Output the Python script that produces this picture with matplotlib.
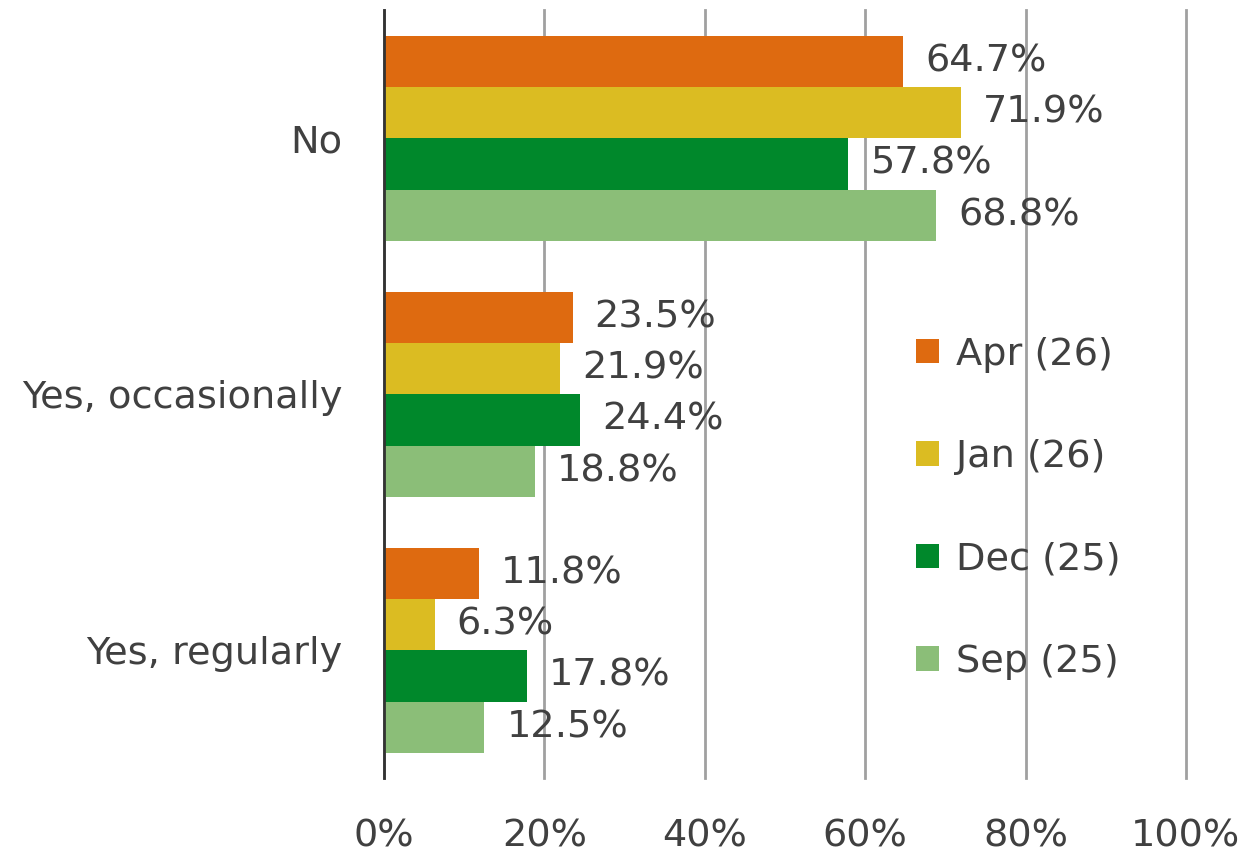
import matplotlib.pyplot as plt
import numpy as np

categories = ["No", "Yes, occasionally", "Yes, regularly"]
series = ["Apr (26)", "Jan (26)", "Dec (25)", "Sep (25)"]
apr = [64.7, 23.5, 11.8]
jan = [71.9, 21.9, 6.3]
dec = [57.8, 24.4, 17.8]
sep = [68.8, 18.8, 12.5]
colors = ["#DE6A10", "#DBBC22", "#00882B", "#8BBE78"]

txt = "#404040"
fs = 27.5
plt.rcParams['font.family'] = ['DejaVu Sans']

fig = plt.figure(figsize=(12.47, 8.6), dpi=100)
ax = fig.add_axes([0.308, 0.095, 0.643, 0.893])

y = np.arange(len(categories))
h = 0.2
for i, (vals, name) in enumerate(zip([apr, jan, dec, sep], series)):
    pos = y - 0.3 + i * h
    ax.barh(pos, vals, height=h, color=colors[i], label=name, zorder=2)
    for p, v in zip(pos, vals):
        ax.annotate(f"{v}%", (v, p), xytext=(16, 0), textcoords="offset points",
                    va="center", ha="left", fontsize=fs, color=txt)

ax.set_xlim(0, 100)
ax.set_ylim(2.5, -0.5)
ax.set_xticks(range(0, 101, 20))
ax.set_xticklabels([f"{t}%" for t in range(0, 101, 20)])
ax.set_yticks(y)
ax.set_yticklabels(categories)
ax.tick_params(axis='x', length=0, pad=29, labelsize=fs, labelcolor=txt)
ax.tick_params(axis='y', length=0, pad=30, labelsize=fs, labelcolor=txt)
ax.xaxis.grid(True, color="#A0A0A0", linewidth=2, zorder=0)
ax.set_axisbelow(True)
for line in ax.get_xgridlines():
    line.set_clip_on(False)
for s in ["top", "right", "bottom"]:
    ax.spines[s].set_visible(False)
ax.spines["left"].set_color("#333333")
ax.spines["left"].set_linewidth(2)
ax.spines["left"].set_zorder(3)

ax.legend(loc="upper left", bbox_to_anchor=(0.621, 0.62), frameon=False,
          fontsize=fs, labelcolor=txt, handlelength=0.6, handleheight=0.6,
          handletextpad=0.45, labelspacing=1.74)

fig.savefig("out.png")
